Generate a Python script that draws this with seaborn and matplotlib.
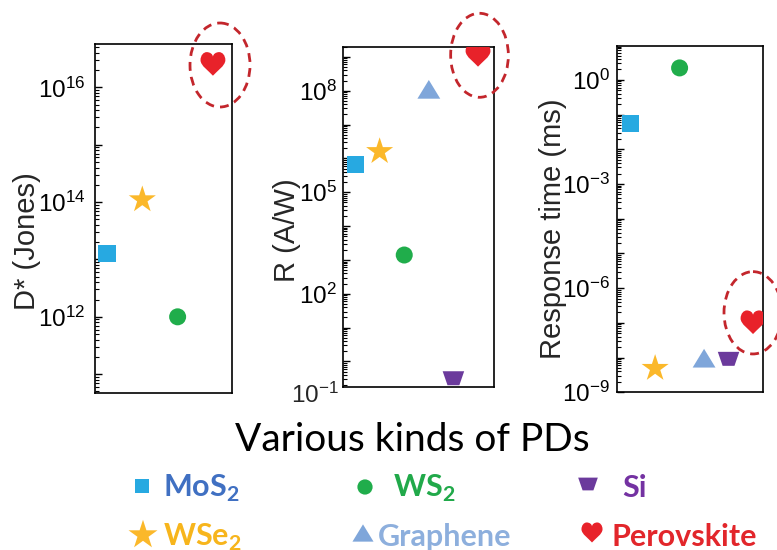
import numpy as np
import pandas as pd
import matplotlib
matplotlib.use("Agg")
import matplotlib.pyplot as plt
from matplotlib.path import Path
from matplotlib.patches import Ellipse
from matplotlib.ticker import LogLocator, FuncFormatter, NullFormatter
import seaborn as sns

# ---------------- data ----------------
materials = ["MoS2", "WSe2", "WS2", "Graphene", "Si", "Perovskite"]
legend_labels = ["MoS$_\\mathbf{2}$", "WSe$_\\mathbf{2}$", "WS$_\\mathbf{2}$",
                 "Graphene", "Si", "Perovskite"]

d_materials = ["MoS2", "WSe2", "WS2", "Perovskite"]
d_values = [1.25e13, 1.1e14, 1.0e12, 2.5e16]          # D* (Jones)

r_materials = ["MoS2", "WSe2", "WS2", "Graphene", "Si", "Perovskite"]
r_values = [6.8e5, 1.6e6, 1.4e3, 1.1e8, 0.32, 1.1e9]   # R (A/W)

t_materials = ["MoS2", "WSe2", "WS2", "Graphene", "Si", "Perovskite"]
t_values = [0.054, 4.9e-9, 2.2, 9.6e-9, 9.2e-9, 1.0e-7]  # response time (ms)

y_labels = ["D* (Jones)", "R (A/W)", "Response time (ms)"]
labeled_exponents = [[12, 14, 16], [2, 5, 8], [-9, -6, -3, 0]]
x_title = "Various kinds of PDs"

# ---------------- style ----------------
sns.set_style("white")
plt.rcParams["font.family"] = ["Liberation Sans", "DejaVu Sans"]
plt.rcParams["mathtext.fontset"] = "custom"
plt.rcParams["mathtext.rm"] = "Liberation Sans"
plt.rcParams["mathtext.it"] = "Liberation Sans:italic"
plt.rcParams["mathtext.bf"] = "Lato:bold"

W, H = 777, 550
fig = plt.figure(figsize=(W / 100, H / 100), dpi=100)
fig.patch.set_facecolor("white")

heart = Path(
    [(0, -0.9),
     (-0.3, -0.55), (-1.0, -0.1), (-1.0, 0.35),
     (-1.0, 0.75), (-0.75, 1.0), (-0.5, 1.0),
     (-0.25, 1.0), (0, 0.85), (0, 0.6),
     (0, 0.85), (0.25, 1.0), (0.5, 1.0),
     (0.75, 1.0), (1.0, 0.75), (1.0, 0.35),
     (1.0, -0.1), (0.3, -0.55), (0, -0.9),
     (0, -0.9)],
    [Path.MOVETO] + [Path.CURVE4] * 18 + [Path.CLOSEPOLY])
trapezoid = Path([(-1, 0.65), (1, 0.65), (0.55, -0.65), (-0.55, -0.65), (-1, 0.65)],
                 [Path.MOVETO, Path.LINETO, Path.LINETO, Path.LINETO, Path.CLOSEPOLY])
triangle = Path([(0, 0.82), (1, -0.82), (-1, -0.82), (0, 0.82)],
                [Path.MOVETO, Path.LINETO, Path.LINETO, Path.CLOSEPOLY])

colors = {"MoS2": "#27a9e1", "WSe2": "#fbb82a", "WS2": "#20ad4b",
          "Graphene": "#7fa6da", "Si": "#6b3a9c", "Perovskite": "#e8222a"}
markers = {"MoS2": "s", "WSe2": "*", "WS2": "o", "Graphene": triangle,
           "Si": trapezoid, "Perovskite": heart}
sizes = {"MoS2": 150, "WSe2": 420, "WS2": 150, "Graphene": 270,
         "Si": 240, "Perovskite": 320}
label_colors = ["#4070c2", "#f7b51c", "#21a94a", "#8dafdd", "#7432a2", "#e2262b"]

# axes rectangles (figure fraction) and x-limits
rects = [[95 / W, 1 - 393 / H, 137 / W, 349 / H],
         [343 / W, 1 - 386.7 / H, 151 / W, 340 / H],
         [616.7 / W, 1 - 392.3 / H, 146.6 / W, 346.6 / H]]
xlims = [(0.66, 4.54), (0.51, 6.65), (0.43, 6.42)]
ylims = [(4.7e10, 5.7e16), (0.18, 2.0e9), (1e-9, 9.6)]
label_pos = [(-0.496, 0.434), (-0.373, 0.461), (-0.434, 0.473)]
label_pads = [7, 4.5, 5]

panels = [(d_materials, d_values), (r_materials, r_values), (t_materials, t_values)]

for i, (mats, vals) in enumerate(panels):
    ax = fig.add_axes(rects[i])
    ax.set_yscale("log")
    df = pd.DataFrame({"pos": np.arange(1, len(mats) + 1), "value": vals, "material": mats})
    sns.scatterplot(data=df, x="pos", y="value", hue="material", style="material",
                    size="material", hue_order=mats, style_order=mats, size_order=mats,
                    palette={m: colors[m] for m in mats},
                    markers={m: markers[m] for m in mats},
                    sizes={m: sizes[m] for m in mats},
                    edgecolor="none", linewidth=0, legend=False, ax=ax, zorder=3)
    ax.set_xlim(*xlims[i])
    ax.set_ylim(*ylims[i])
    ax.set_xticks([])
    ax.set_xlabel("")
    exps = labeled_exponents[i]
    ax.yaxis.set_major_locator(LogLocator(base=10, numticks=40))
    ax.yaxis.set_minor_locator(LogLocator(base=10, subs=np.arange(2, 10), numticks=40))
    ax.yaxis.set_major_formatter(FuncFormatter(
        lambda v, p, ex=exps: ("$\\mathdefault{10^{%d}}$" % int(round(np.log10(v))))
        if int(round(np.log10(v))) in ex else ""))
    ax.yaxis.set_minor_formatter(NullFormatter())
    ax.tick_params(axis="y", which="both", direction="in", left=True, right=False,
                   labelsize=17.5, colors="black")
    ax.tick_params(axis="y", which="major", length=5, width=1.0, pad=label_pads[i])
    ax.tick_params(axis="y", which="minor", length=3, width=0.8)
    for s in ax.spines.values():
        s.set_color("black")
        s.set_linewidth(1.2)
        s.set_visible(True)
    ax.set_ylabel(y_labels[i], fontsize=21, va="center")
    ax.yaxis.set_label_coords(*label_pos[i])
    if i == 1:
        ax.text(-0.03, -0.025, "$\\mathdefault{10^{-1}}$", transform=ax.transAxes,
                ha="right", va="center", fontsize=17.5)

# overlay in pixel coordinates for title, legend and highlight ellipses
ov = fig.add_axes([0, 0, 1, 1])
ov.set_xlim(0, W)
ov.set_ylim(H, 0)
ov.axis("off")
ov.patch.set_alpha(0)

ov.text(412, 440, x_title, ha="center", va="center", fontsize=28, family="Lato",
        color="black")

key_x = [142, 143, 365, 363, 588, 592]
key_y = [486, 535, 487, 533, 484, 533]
key_sizes = [95, 480, 120, 230, 200, 230]
text_x = [163, 163, 393, 378, 622, 612]
text_y = [497, 546, 497, 546, 497, 546]
for k, m in enumerate(materials):
    ov.scatter([key_x[k]], [key_y[k]], marker=markers[m], s=key_sizes[k],
               color=colors[m], edgecolor="none", clip_on=False)
    ov.text(text_x[k], text_y[k], legend_labels[k], ha="left", va="baseline",
            fontsize=22, family="Lato", fontweight="bold", color=label_colors[k])

ell_centers = [(220, 65), (479.5, 55.3), (753, 312.8)]
ell_sizes = [(60, 84), (57.7, 84), (58, 82.3)]
for (cx, cy), (ew, eh) in zip(ell_centers, ell_sizes):
    ov.add_patch(Ellipse((cx, cy), ew, eh, fill=False, edgecolor="#c3262c",
                         linewidth=2.0, linestyle=(0, (3.2, 2.2)), clip_on=False))

fig.savefig("out.png", dpi=100)
